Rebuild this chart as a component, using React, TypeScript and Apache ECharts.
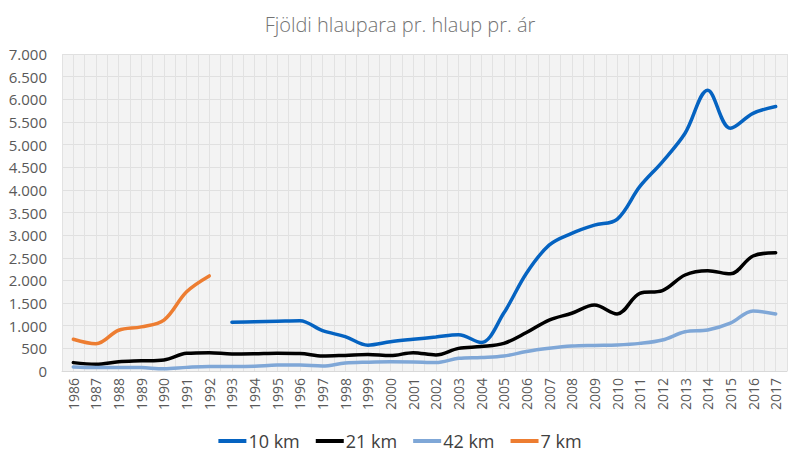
import React, { useEffect, useRef } from "react";
import * as echarts from "echarts";

// Years on the category axis
const years = [
  "1986", "1987", "1988", "1989", "1990", "1991", "1992", "1993", "1994", "1995",
  "1996", "1997", "1998", "1999", "2000", "2001", "2002", "2003", "2004", "2005",
  "2006", "2007", "2008", "2009", "2010", "2011", "2012", "2013", "2014", "2015",
  "2016", "2017",
];

// Runners per race per year, by distance
const km10 = [
  null, null, null, null, null, null, null, 1075, 1090, 1100,
  1110, 890, 760, 570, 645, 700, 750, 800, 630, 1280,
  2160, 2780, 3040, 3220, 3350, 4070, 4620, 5250, 6200, 5360,
  5690, 5840,
];
const km21 = [
  185, 150, 205, 225, 245, 390, 405, 375, 380, 390,
  385, 330, 345, 365, 340, 405, 355, 500, 540, 610,
  850, 1125, 1275, 1455, 1260, 1715, 1775, 2120, 2215, 2145,
  2540, 2610,
];
const km42 = [
  90, 75, 80, 75, 50, 80, 100, 100, 105, 130,
  130, 110, 175, 195, 205, 200, 185, 280, 300, 330,
  430, 500, 550, 565, 575, 610, 685, 865, 905, 1055,
  1325, 1260,
];
const km7 = [
  700, 600, 900, 975, 1125, 1750, 2100, null, null, null,
  null, null, null, null, null, null, null, null, null, null,
  null, null, null, null, null, null, null, null, null, null,
  null, null,
];

const seriesNames = ["10 km", "21 km", "42 km", "7 km"];
const seriesColors = ["#0563C1", "#000000", "#7FA7D7", "#ED7D31"];
const seriesData = [km10, km21, km42, km7];

// Half-step categories used only to draw the finer vertical grid
const halfSteps = Array.from({ length: years.length * 2 }, (_, i) => String(i));

const font = "'Open Sans', 'Noto Sans', sans-serif";

export default function App() {
  const ref = useRef<HTMLDivElement>(null);

  useEffect(() => {
    if (!ref.current) return;
    const chart = echarts.init(ref.current, null, { renderer: "svg" });
    chart.setOption({
      animation: false,
      backgroundColor: "#ffffff",
      title: {
        text: "Fjöldi hlaupara pr. hlaup pr. ár",
        left: "center",
        top: 9,
        textStyle: {
          fontFamily: font,
          fontSize: 20,
          fontWeight: 300,
          color: "#737373",
        },
      },
      legend: {
        bottom: 11,
        left: "center",
        itemWidth: 28,
        itemHeight: 4,
        itemGap: 16,
        icon: "rect",
        textStyle: { fontFamily: font, fontSize: 18, color: "#404040", padding: [0, 0, 0, -3] },
        data: seriesNames,
      },
      grid: {
        left: 62,
        right: 13,
        top: 54,
        bottom: 95,
        show: true,
        backgroundColor: "#F3F3F3",
        borderWidth: 0,
      },
      xAxis: [
        {
          type: "category",
          data: years,
          boundaryGap: true,
          axisLine: { show: true, lineStyle: { color: "#D9D9D9" } },
          axisTick: { show: false },
          splitLine: { show: false },
          axisLabel: {
            rotate: 90,
            interval: 0,
            margin: 7,
            fontFamily: font,
            fontSize: 14,
            color: "#595959",
          },
        },
        {
          type: "category",
          data: halfSteps,
          boundaryGap: true,
          position: "bottom",
          axisLine: { show: false },
          axisTick: { show: false },
          axisLabel: { show: false },
          splitLine: { show: true, interval: 0, lineStyle: { color: "#E2E2E2", width: 1 } },
        },
      ],
      yAxis: {
        type: "value",
        min: 0,
        max: 7000,
        interval: 500,
        axisLine: { show: false },
        axisTick: { show: false },
        splitLine: { show: true, lineStyle: { color: "#E0E0E0", width: 1 } },
        axisLabel: {
          margin: 15,
          fontFamily: font,
          fontSize: 15,
          color: "#595959",
          formatter: (v: number) => v.toLocaleString("de-DE"),
        },
      },
      series: seriesNames.map((name, i) => ({
        name,
        type: "line",
        xAxisIndex: 0,
        data: seriesData[i],
        smooth: 0.35,
        showSymbol: false,
        symbol: "none",
        connectNulls: false,
        lineStyle: { color: seriesColors[i], width: 3.5, cap: "round" },
        itemStyle: { color: seriesColors[i] },
      })),
    });
    return () => chart.dispose();
  }, []);

  return (
    <div
      ref={ref}
      style={{ position: "fixed", left: 0, top: 0, width: 800, height: 466 }}
    />
  );
}
